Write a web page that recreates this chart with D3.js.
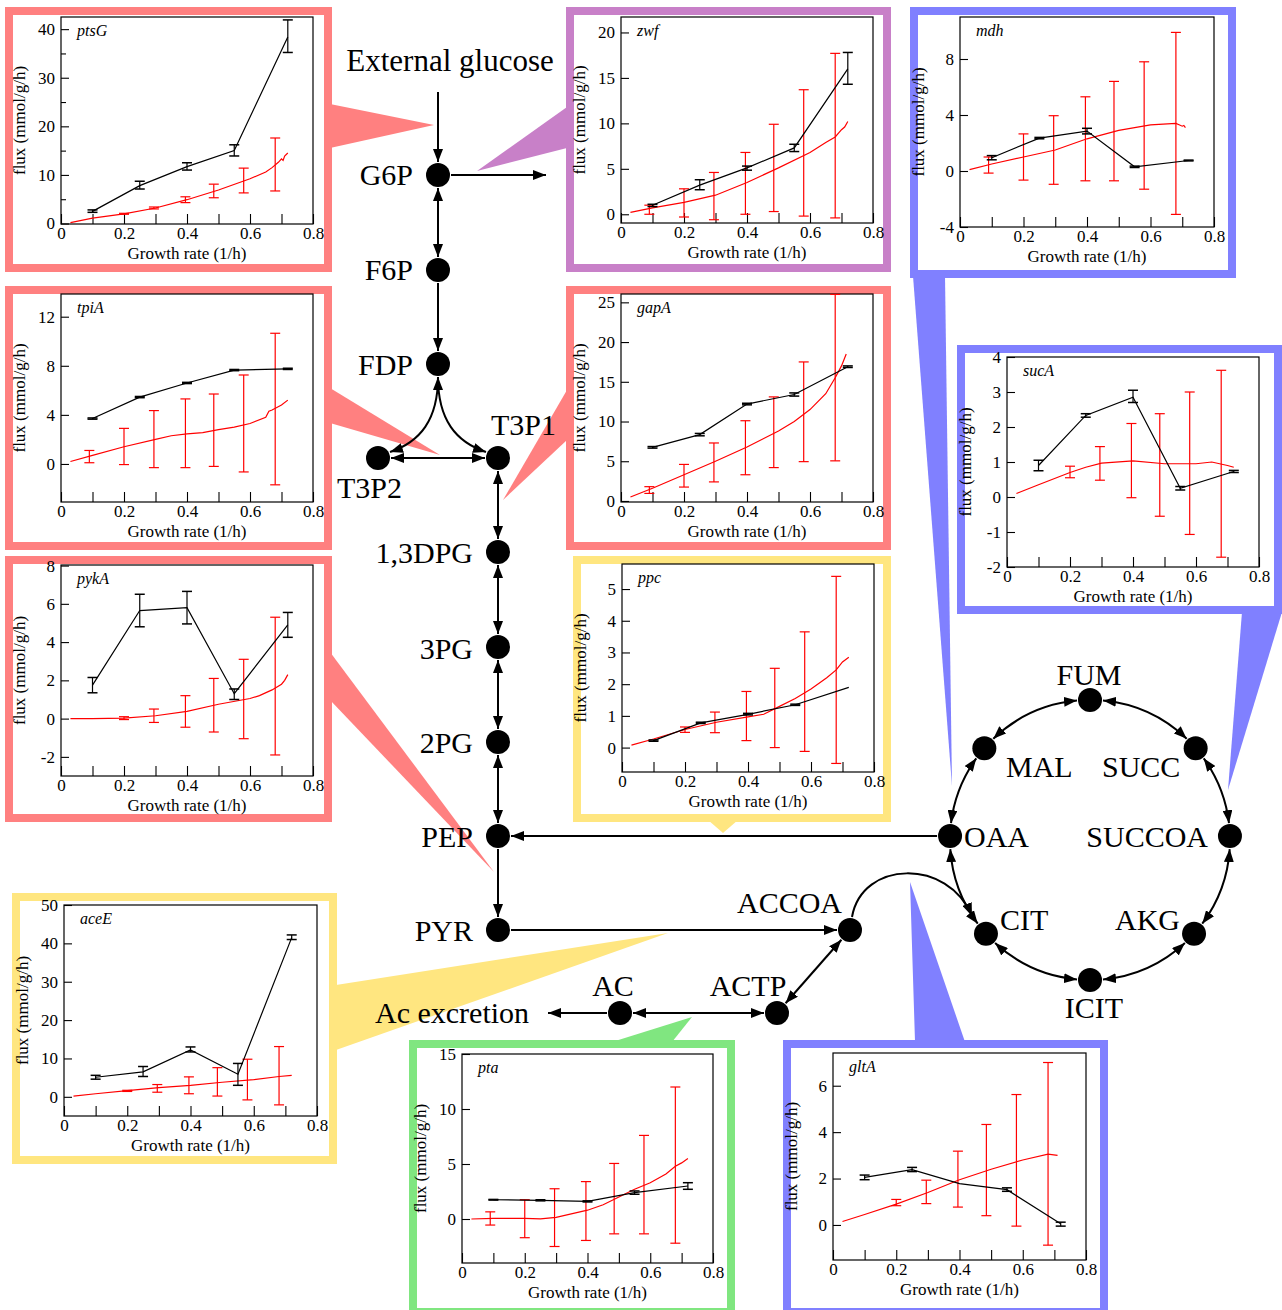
<!DOCTYPE html>
<html>
<head>
<meta charset="utf-8">
<script src="https://cdn.jsdelivr.net/npm/d3@7"></script>
<style>
body { margin: 0; background: #fff; }
svg { display: block; }
</style>
</head>
<body>
<svg id="svg"></svg>
<script>
// ---------- data ----------
const growthTicks = [0, 0.2, 0.4, 0.6, 0.8]
const growthMinor = [0.1, 0.3, 0.5, 0.7]
const measuredRates = [0.1, 0.25, 0.4, 0.55, 0.72]
const modelBarRates = [0.09, 0.2, 0.295, 0.395, 0.485, 0.58, 0.68]

// ptsG
const ptsG_yTicks = [0, 10, 20, 30, 40]
const ptsG_yMinor = [5, 15, 25, 35]
const ptsG_meas = [2.5, 7.8, 11.7, 15.0, 38.4]
const ptsG_measErr = [[2.3, 2.8], [7.1, 8.7], [11.0, 12.5], [13.9, 16.2], [35.2, 41.9]]
const ptsG_model = [[0.03, 0.2], [0.1, 1.1], [0.2, 2.0], [0.3, 3.2], [0.4, 4.9], [0.5, 6.9], [0.6, 9.2], [0.65, 10.6], [0.67, 11.5], [0.69, 12.6], [0.7, 13.3], [0.705, 13.0], [0.71, 13.9], [0.72, 14.5]]
const ptsG_modelErr = [null, [1.9, 2.1], [3.0, 3.4], [4.3, 5.5], [5.3, 8.1], [6.3, 11.4], [6.7, 17.6]]

// zwf
const zwf_yTicks = [0, 5, 10, 15, 20]
const zwf_meas = [1.0, 3.2, 5.1, 7.3, 16.0]
const zwf_measErr = [[0.85, 1.1], [2.7, 3.8], [4.85, 5.3], [6.9, 7.7], [14.3, 17.8]]
const zwf_model = [[0.03, 0.2], [0.1, 0.7], [0.2, 1.3], [0.3, 2.1], [0.4, 3.5], [0.5, 5.1], [0.6, 6.8], [0.65, 7.9], [0.68, 8.5], [0.7, 9.3], [0.71, 9.6], [0.72, 10.2]]
const zwf_modelErr = [[0.0, 1.0], [-0.3, 2.8], [-0.6, 4.6], [0.0, 6.8], [0.3, 9.9], [-0.2, 13.7], [-0.4, 17.7]]

// mdh
const mdh_yTicks = [-4, 0, 4, 8]
const mdh_meas = [0.95, 2.35, 2.85, 0.3, 0.75]
const mdh_measErr = [[0.8, 1.1], [2.3, 2.4], [2.65, 3.05], [0.25, 0.35], [0.72, 0.78]]
const mdh_model = [[0.03, 0.1], [0.1, 0.5], [0.2, 1.0], [0.3, 1.5], [0.4, 2.3], [0.5, 2.9], [0.6, 3.3], [0.68, 3.4], [0.69, 3.3], [0.7, 3.2], [0.705, 3.25], [0.71, 3.1]]
const mdh_modelErr = [[-0.15, 1.0], [-0.65, 2.65], [-0.95, 3.95], [-0.7, 5.3], [-0.7, 6.4], [-1.3, 7.8], [-3.1, 9.9]]

// tpiA
const tpiA_yTicks = [0, 4, 8, 12]
const tpiA_meas = [3.7, 5.45, 6.6, 7.65, 7.75]
const tpiA_measErr = [[3.65, 3.75], [5.4, 5.5], [6.55, 6.65], [7.6, 7.7], [7.7, 7.8]]
const tpiA_model = [[0.03, 0.2], [0.1, 0.7], [0.2, 1.4], [0.3, 2.0], [0.35, 2.3], [0.4, 2.45], [0.45, 2.55], [0.5, 2.8], [0.55, 3.0], [0.6, 3.3], [0.65, 3.8], [0.66, 4.3], [0.67, 4.4], [0.7, 4.8], [0.72, 5.2]]
const tpiA_modelErr = [[0.1, 1.1], [-0.05, 2.9], [-0.3, 4.35], [-0.3, 5.3], [-0.2, 5.7], [-0.65, 7.25], [-1.7, 10.65]]

// gapA
const gapA_yTicks = [0, 5, 10, 15, 20, 25]
const gapA_meas = [6.75, 8.35, 12.2, 13.4, 16.9]
const gapA_measErr = [[6.65, 6.85], [8.2, 8.5], [12.1, 12.3], [13.2, 13.6], [16.8, 17.0]]
const gapA_model = [[0.03, 0.5], [0.1, 1.6], [0.2, 3.3], [0.3, 5.0], [0.4, 6.8], [0.5, 8.8], [0.55, 10.0], [0.6, 11.5], [0.65, 13.5], [0.68, 15.5], [0.7, 17.0], [0.71, 18.0], [0.715, 18.5]]
const gapA_modelErr = [[0.95, 1.8], [1.75, 4.6], [2.4, 7.3], [3.3, 10.1], [4.2, 13.1], [4.95, 17.5], [5.05, 26.0]]

// sucA
const sucA_yTicks = [-2, -1, 0, 1, 2, 3, 4]
const sucA_meas = [0.9, 2.33, 2.85, 0.25, 0.73]
const sucA_measErr = [[0.75, 1.05], [2.28, 2.38], [2.7, 3.05], [0.2, 0.3], [0.7, 0.76]]
const sucA_model = [[0.03, 0.1], [0.1, 0.35], [0.2, 0.7], [0.25, 0.85], [0.3, 0.97], [0.4, 1.03], [0.5, 0.95], [0.6, 0.95], [0.65, 1.0], [0.7, 0.9], [0.72, 0.85]]
const sucA_modelErr = [null, [0.55, 0.88], [0.48, 1.44], [-0.02, 2.1], [-0.55, 2.38], [-1.07, 3.0], [-1.72, 3.62]]

// pykA
const pykA_yTicks = [-2, 0, 2, 4, 6, 8]
const pykA_meas = [1.75, 5.65, 5.8, 1.3, 4.9]
const pykA_measErr = [[1.35, 2.15], [4.8, 6.5], [4.95, 6.65], [1.0, 1.55], [4.25, 5.55]]
const pykA_model = [[0.03, 0.0], [0.1, 0.0], [0.2, 0.03], [0.3, 0.15], [0.4, 0.38], [0.5, 0.75], [0.6, 1.05], [0.63, 1.2], [0.67, 1.5], [0.7, 1.8], [0.71, 2.0], [0.72, 2.3]]
const pykA_modelErr = [null, [-0.05, 0.1], [-0.2, 0.5], [-0.45, 1.2], [-0.7, 2.1], [-1.05, 3.1], [-1.9, 5.3]]

// ppc
const ppc_yTicks = [0, 1, 2, 3, 4, 5]
const ppc_meas = [0.22, 0.78, 1.05, 1.35, 1.9]
const ppc_measErr = [[0.2, 0.24], [0.76, 0.8], [1.03, 1.08], [1.33, 1.37], null]
const ppc_model = [[0.03, 0.08], [0.1, 0.27], [0.2, 0.57], [0.3, 0.8], [0.4, 0.97], [0.45, 1.05], [0.5, 1.3], [0.55, 1.55], [0.6, 1.85], [0.65, 2.2], [0.68, 2.45], [0.7, 2.7], [0.72, 2.85]]
const ppc_modelErr = [null, [0.48, 0.65], [0.47, 1.12], [0.22, 1.77], [0.0, 2.5], [-0.12, 3.65], [-0.5, 5.4]]

// aceE
const aceE_yTicks = [0, 10, 20, 30, 40, 50]
const aceE_meas = [5.1, 6.5, 12.2, 5.9, 41.5]
const aceE_measErr = [[4.6, 5.6], [5.3, 7.9], [11.7, 13.0], [3.0, 8.7], [41.0, 42.2]]
const aceE_model = [[0.03, 0.2], [0.1, 0.8], [0.2, 1.6], [0.3, 2.4], [0.4, 3.0], [0.5, 3.8], [0.6, 4.5], [0.68, 5.3], [0.72, 5.6]]
const aceE_modelErr = [null, [1.4, 1.7], [1.2, 3.2], [0.8, 5.2], [0.2, 7.6], [-0.8, 9.8], [-2.1, 13.1]]

// pta
const pta_yTicks = [0, 5, 10, 15]
const pta_meas = [1.75, 1.7, 1.6, 2.4, 3.0]
const pta_measErr = [[1.72, 1.78], [1.65, 1.75], [1.55, 1.65], [2.25, 2.55], [2.7, 3.3]]
const pta_model = [[0.03, 0.0], [0.1, 0.05], [0.2, 0.05], [0.25, 0.02], [0.3, 0.15], [0.4, 0.8], [0.45, 1.3], [0.5, 2.0], [0.55, 2.7], [0.6, 3.3], [0.65, 4.1], [0.68, 4.8], [0.7, 5.1], [0.72, 5.5]]
const pta_modelErr = [[-0.55, 0.65], [-1.7, 1.75], [-2.5, 2.75], [-1.95, 3.4], [-1.35, 5.05], [-1.35, 7.6], [-2.2, 12.0]]

// gltA
const gltA_yTicks = [0, 2, 4, 6]
const gltA_meas = [2.05, 2.38, 1.78, 1.52, 0.05]
const gltA_measErr = [[1.95, 2.15], [2.3, 2.48], null, [1.45, 1.6], [-0.05, 0.12]]
const gltA_model = [[0.03, 0.15], [0.1, 0.45], [0.2, 0.9], [0.3, 1.4], [0.4, 1.95], [0.5, 2.4], [0.6, 2.8], [0.68, 3.05], [0.71, 3.0]]
const gltA_modelErr = [null, [0.83, 1.1], [0.92, 1.93], [0.77, 3.18], [0.4, 4.33], [-0.05, 5.62], [-0.87, 7.0]]

// ---------- layout ----------
const SERIF = "'Liberation Serif','DejaVu Serif','Times New Roman',serif"
const SALMON = "#ff8080", PURPLE = "#c880c8", BLUE = "#8080ff", YELLOW = "#ffe680", GREEN = "#80e680"

const panels = [
    { gene: "ptsG", color: SALMON, frame: [5, 7, 332, 272], plot: [61, 17, 313, 224], yDomain: [-0.1, 42.5], yTicks: ptsG_yTicks, yMinor: ptsG_yMinor, meas: ptsG_meas, measErr: ptsG_measErr, model: ptsG_model, modelErr: ptsG_modelErr },
    { gene: "zwf", color: PURPLE, frame: [566, 7, 891, 272], plot: [621, 17, 873, 223], yDomain: [-0.96, 21.7], yTicks: zwf_yTicks, meas: zwf_meas, measErr: zwf_measErr, model: zwf_model, modelErr: zwf_modelErr },
    { gene: "mdh", color: BLUE, frame: [910, 7, 1236, 278], plot: [960, 17, 1214, 227], yDomain: [-4, 11], yTicks: mdh_yTicks, meas: mdh_meas, measErr: mdh_measErr, model: mdh_model, modelErr: mdh_modelErr },
    { gene: "tpiA", color: SALMON, frame: [5, 286, 332, 550], plot: [61, 294, 313, 502], yDomain: [-3.1, 13.85], yTicks: tpiA_yTicks, meas: tpiA_meas, measErr: tpiA_measErr, model: tpiA_model, modelErr: tpiA_modelErr },
    { gene: "gapA", color: SALMON, frame: [566, 286, 891, 550], plot: [621, 294, 873, 502], yDomain: [-0.13, 26.05], yTicks: gapA_yTicks, meas: gapA_meas, measErr: gapA_measErr, model: gapA_model, modelErr: gapA_modelErr },
    { gene: "sucA", color: BLUE, frame: [957, 345, 1282, 614], plot: [1007, 357, 1259, 567], yDomain: [-2, 4], yTicks: sucA_yTicks, meas: sucA_meas, measErr: sucA_measErr, model: sucA_model, modelErr: sucA_modelErr },
    { gene: "pykA", color: SALMON, frame: [5, 556, 332, 822], plot: [61, 565, 313, 776], yDomain: [-3, 8.03], yTicks: pykA_yTicks, meas: pykA_meas, measErr: pykA_measErr, model: pykA_model, modelErr: pykA_modelErr },
    { gene: "ppc", color: YELLOW, frame: [573, 556, 891, 822], plot: [622, 564, 874, 772], yDomain: [-0.77, 5.79], yTicks: ppc_yTicks, meas: ppc_meas, measErr: ppc_measErr, model: ppc_model, modelErr: ppc_modelErr, pointer: [[708, 820], [738, 820], [723, 833]] },
    { gene: "aceE", color: YELLOW, frame: [12, 893, 337, 1164], plot: [64, 905, 317, 1116], yDomain: [-5, 50], yTicks: aceE_yTicks, meas: aceE_meas, measErr: aceE_measErr, model: aceE_model, modelErr: aceE_modelErr },
    { gene: "pta", color: GREEN, frame: [409, 1040, 735, 1316], plot: [462, 1054, 713, 1263], yDomain: [-4, 15], yTicks: pta_yTicks, meas: pta_meas, measErr: pta_measErr, model: pta_model, modelErr: pta_modelErr },
    { gene: "gltA", color: BLUE, frame: [783, 1040, 1108, 1316], plot: [833, 1053, 1086, 1260], yDomain: [-1.51, 7.41], yTicks: gltA_yTicks, meas: gltA_meas, measErr: gltA_measErr, model: gltA_model, modelErr: gltA_modelErr },
]

// callout wedges linking each panel to its reaction
const wedges = [
    { color: SALMON, pts: [[330, 104], [330, 148], [434, 125]] },
    { color: PURPLE, pts: [[567, 107], [567, 148], [477, 171]] },
    { color: SALMON, pts: [[330, 388], [330, 423], [440, 455]] },
    { color: SALMON, pts: [[567, 390], [567, 440], [503, 500]] },
    { color: SALMON, pts: [[330, 652], [330, 700], [494, 872]] },
    { color: YELLOW, pts: [[336, 985], [336, 1050], [668, 933]] },
    { color: GREEN, pts: [[612, 1042], [672, 1042], [692, 1017]] },
    { color: BLUE, pts: [[915, 1042], [965, 1042], [910, 882]] },
    { color: BLUE, pts: [[913, 276], [945, 276], [952, 786]] },
    { color: BLUE, pts: [[1242, 612], [1282, 612], [1228, 790]] },
]

const svg = d3.select("#svg").attr("width", 1282).attr("height", 1310)

const defs = svg.append("defs")
defs.append("marker").attr("id", "head")
    .attr("viewBox", "0 0 13 10").attr("refX", 13).attr("refY", 5)
    .attr("markerWidth", 13).attr("markerHeight", 10)
    .attr("markerUnits", "userSpaceOnUse")
    .attr("orient", "auto-start-reverse")
    .append("path").attr("d", "M0,0L13,5L0,10Z").attr("fill", "#000")

// wedges sit behind everything
wedges.forEach(w => {
    svg.append("polygon")
        .attr("points", w.pts.map(p => p.join(",")).join(" "))
        .attr("fill", w.color)
})

// ---------- network ----------
const net = svg.append("g")
const R_NODE = 12
const TCA_C = [1090, 840], TCA_R = 140

const nodes = {
    G6P: [438, 175], F6P: [438, 270], FDP: [438, 364],
    T3P2: [378, 458], T3P1: [498, 458], DPG: [498, 552], PG3: [498, 647],
    PG2: [498, 742], PEP: [498, 836], PYR: [498, 930],
    ACCOA: [850, 930], ACTP: [777, 1013], AC: [620, 1013],
}
const tcaAngle = { FUM: -90, SUCC: -41, SUCCOA: -1.6, AKG: 42, ICIT: 90, CIT: 138, OAA: 181.6, MAL: 221 }
const tcaOrder = ["FUM", "SUCC", "SUCCOA", "AKG", "ICIT", "CIT", "OAA", "MAL"]
const polar = a => [TCA_C[0] + TCA_R * Math.cos(a * Math.PI / 180), TCA_C[1] + TCA_R * Math.sin(a * Math.PI / 180)]
tcaOrder.forEach(n => { nodes[n] = polar(tcaAngle[n]) })

function straight(a, b, ra, rb, startHead, endHead) {
    const dx = b[0] - a[0], dy = b[1] - a[1], L = Math.hypot(dx, dy)
    const ux = dx / L, uy = dy / L
    net.append("line")
        .attr("x1", a[0] + ux * ra).attr("y1", a[1] + uy * ra)
        .attr("x2", b[0] - ux * rb).attr("y2", b[1] - uy * rb)
        .attr("stroke", "#000").attr("stroke-width", 2)
        .attr("marker-start", startHead ? "url(#head)" : null)
        .attr("marker-end", endHead ? "url(#head)" : null)
}
function curve(d, startHead, endHead) {
    net.append("path").attr("d", d)
        .attr("fill", "none").attr("stroke", "#000").attr("stroke-width", 2)
        .attr("marker-start", startHead ? "url(#head)" : null)
        .attr("marker-end", endHead ? "url(#head)" : null)
}

const r = R_NODE + 1
straight([438, 92], nodes.G6P, 0, r, false, true)
straight(nodes.G6P, [546, 175], r, 0, false, true)
straight(nodes.G6P, nodes.F6P, r, r, true, true)
straight(nodes.F6P, nodes.FDP, r, r, false, true)
curve("M438,377 C438,420 420,442 390,452", true, true)
curve("M438,377 C438,420 456,442 486,452", false, true)
straight(nodes.T3P2, nodes.T3P1, r, r, true, true)
straight(nodes.T3P1, nodes.DPG, r, r, true, true)
straight(nodes.DPG, nodes.PG3, r, r, true, true)
straight(nodes.PG3, nodes.PG2, r, r, true, true)
straight(nodes.PG2, nodes.PEP, r, r, true, true)
straight(nodes.PEP, nodes.PYR, r, r, false, true)
straight(nodes.OAA, nodes.PEP, r, r, false, true)
straight(nodes.PYR, nodes.ACCOA, r, r, false, true)
straight(nodes.ACCOA, nodes.ACTP, r, r, true, true)
straight(nodes.ACTP, nodes.AC, r, r, true, true)
straight(nodes.AC, [548, 1013], r, 0, false, true)
curve("M852,917 C862,860 948,858 972,916", false, true)

tcaOrder.forEach((n, i) => {
    const m = tcaOrder[(i + 1) % tcaOrder.length]
    let a1 = tcaAngle[n], a2 = tcaAngle[m]
    if (a2 < a1) a2 += 360
    const d = (R_NODE + 1) / TCA_R * 180 / Math.PI
    const p1 = polar(a1 + d), p2 = polar(a2 - d)
    curve(`M${p1[0]},${p1[1]} A${TCA_R},${TCA_R} 0 0 1 ${p2[0]},${p2[1]}`, true, true)
})

Object.values(nodes).forEach(p => {
    net.append("circle").attr("cx", p[0]).attr("cy", p[1]).attr("r", R_NODE).attr("fill", "#000")
})

const labels = [
    ["External glucose", 450, 71, "middle", 31],
    ["G6P", 413, 185, "end"], ["F6P", 413, 280, "end"], ["FDP", 413, 375, "end"],
    ["T3P1", 491, 435, "start"], ["T3P2", 337, 498, "start"],
    ["1,3DPG", 473, 563, "end"], ["3PG", 473, 659, "end"], ["2PG", 473, 753, "end"],
    ["PEP", 473, 847, "end"], ["PYR", 473, 941, "end"],
    ["ACCOA", 842, 913, "end"], ["AC", 613, 996, "middle"], ["ACTP", 748, 996, "middle"],
    ["Ac excretion", 375, 1023, "start"],
    ["FUM", 1089, 685, "middle"], ["MAL", 1006, 777, "start"], ["SUCC", 1102, 777, "start"],
    ["OAA", 964, 847, "start"], ["SUCCOA", 1208, 847, "end"],
    ["CIT", 1000, 930, "start"], ["AKG", 1180, 930, "end"], ["ICIT", 1094, 1018, "middle"],
]
labels.forEach(([t, x, y, anchor, size]) => {
    net.append("text").text(t)
        .attr("x", x).attr("y", y).attr("text-anchor", anchor)
        .attr("font-family", SERIF).attr("font-size", size || 30).attr("fill", "#000")
})

// ---------- panels ----------
const fmtX = d => d === 0 ? "0" : d3.format(".1f")(d)

panels.forEach(p => {
    const g = svg.append("g")
    const [fx0, fy0, fx1, fy1] = p.frame
    g.append("rect")
        .attr("x", fx0 + 4).attr("y", fy0 + 4)
        .attr("width", fx1 - fx0 - 8).attr("height", fy1 - fy0 - 8)
        .attr("fill", "#fff").attr("stroke", p.color).attr("stroke-width", 8)
    if (p.pointer) {
        g.append("polygon").attr("points", p.pointer.map(q => q.join(",")).join(" ")).attr("fill", p.color)
    }

    const [px0, py0, px1, py1] = p.plot
    const x = d3.scaleLinear().domain([0, 0.8]).range([px0, px1])
    const y = d3.scaleLinear().domain(p.yDomain).range([py1, py0])

    g.append("g").attr("transform", `translate(0,${py1})`)
        .call(d3.axisBottom(x).tickValues(growthMinor).tickSize(-10).tickFormat(""))
    g.append("g").attr("transform", `translate(0,${py1})`)
        .call(d3.axisBottom(x).tickValues(growthTicks).tickSize(-10).tickPadding(3).tickFormat(fmtX))
    g.append("g").attr("transform", `translate(${px0},0)`)
        .call(d3.axisLeft(y).tickValues(p.yTicks).tickSize(-8).tickPadding(6).tickFormat(String))
    if (p.yMinor) {
        g.append("g").attr("transform", `translate(${px0},0)`)
            .call(d3.axisLeft(y).tickValues(p.yMinor).tickSize(-5).tickFormat(""))
    }
    g.selectAll(".domain").remove()
    g.selectAll(".tick line").attr("stroke", "#000").attr("stroke-width", 1.1)
    g.selectAll(".tick text").attr("font-family", SERIF).attr("font-size", 17).attr("fill", "#000")

    g.append("rect").attr("x", px0).attr("y", py0)
        .attr("width", px1 - px0).attr("height", py1 - py0)
        .attr("fill", "none").attr("stroke", "#000").attr("stroke-width", 1.2)

    const line = d3.line().x(d => x(d[0])).y(d => y(d[1]))

    // model (red)
    g.append("path").datum(p.model).attr("d", line)
        .attr("fill", "none").attr("stroke", "#ff0000").attr("stroke-width", 1.2)
    p.modelErr.forEach((b, i) => {
        if (!b) return
        const cx = x(modelBarRates[i])
        g.append("line").attr("x1", cx).attr("x2", cx).attr("y1", y(b[0])).attr("y2", y(b[1]))
            .attr("stroke", "#ff0000").attr("stroke-width", 1.2)
        b.forEach(v => g.append("line").attr("x1", cx - 5).attr("x2", cx + 5).attr("y1", y(v)).attr("y2", y(v))
            .attr("stroke", "#ff0000").attr("stroke-width", 1.2))
    })

    // measured (black)
    g.append("path").datum(p.meas.map((v, i) => [measuredRates[i], v])).attr("d", line)
        .attr("fill", "none").attr("stroke", "#000").attr("stroke-width", 1.2)
    p.measErr.forEach((b, i) => {
        if (!b) return
        const cx = x(measuredRates[i])
        g.append("line").attr("x1", cx).attr("x2", cx).attr("y1", y(b[0])).attr("y2", y(b[1]))
            .attr("stroke", "#000").attr("stroke-width", 1.2)
        b.forEach(v => g.append("line").attr("x1", cx - 5).attr("x2", cx + 5).attr("y1", y(v)).attr("y2", y(v))
            .attr("stroke", "#000").attr("stroke-width", 1.5))
    })

    g.append("text").text(p.gene)
        .attr("x", px0 + 16).attr("y", py0 + 19)
        .attr("font-family", SERIF).attr("font-style", "italic").attr("font-size", 16)
    g.append("text").text("Growth rate (1/h)")
        .attr("x", (px0 + px1) / 2).attr("y", py1 + 35).attr("text-anchor", "middle")
        .attr("font-family", SERIF).attr("font-size", 17)
    g.append("text").text("flux (mmol/g/h)")
        .attr("transform", `translate(${px0 - 36},${(py0 + py1) / 2}) rotate(-90)`)
        .attr("text-anchor", "middle")
        .attr("font-family", SERIF).attr("font-size", 17)
})
</script>
</body>
</html>
